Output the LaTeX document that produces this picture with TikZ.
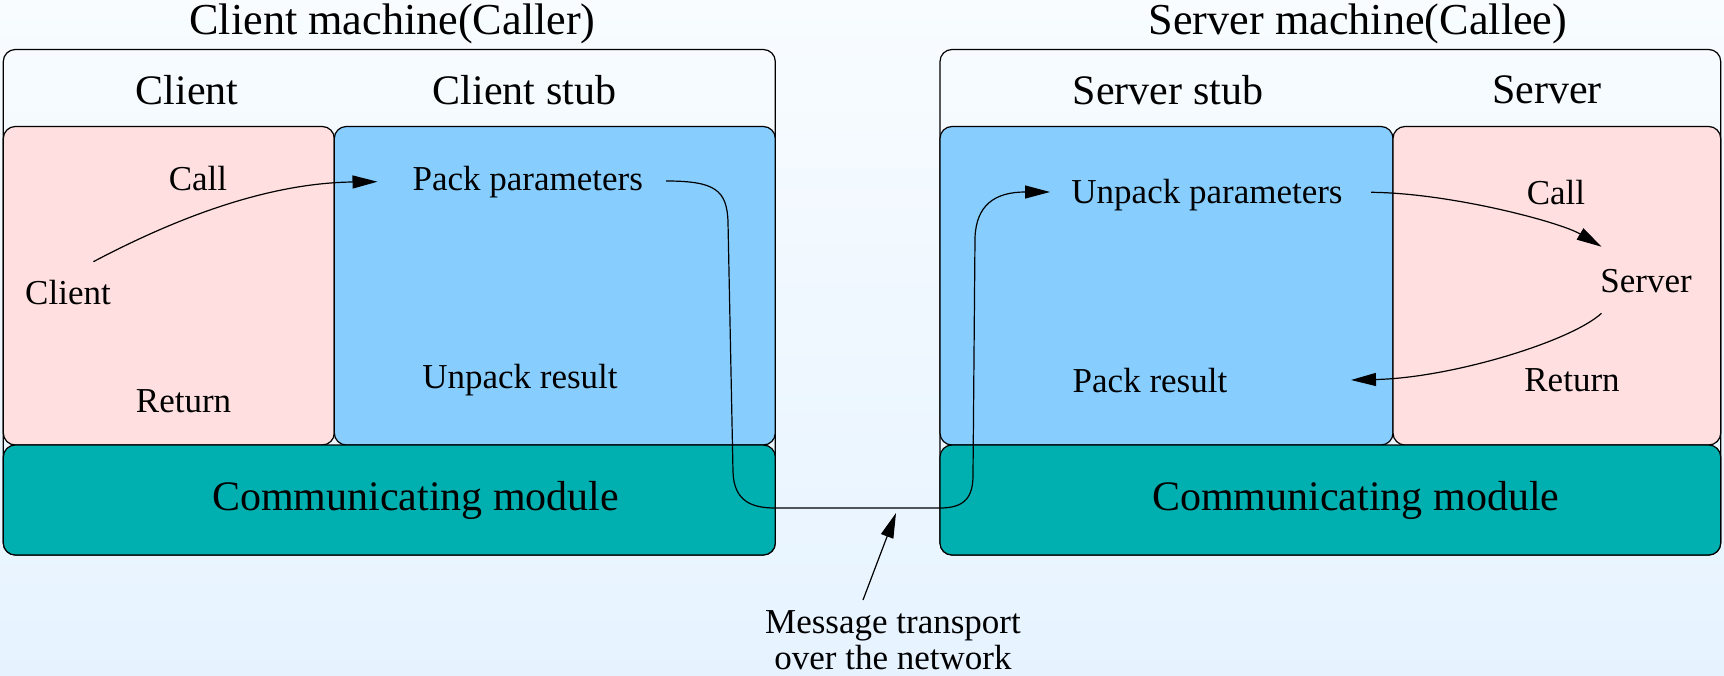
\documentclass[tikz,border=0pt]{standalone}
\usepackage{fontspec}
\setmainfont{Liberation Serif}
\usetikzlibrary{arrows.meta}
\definecolor{pinkbox}{HTML}{FFDFDF}
\definecolor{bluebox}{HTML}{87CEFF}
\definecolor{tealbox}{HTML}{00B0B0}
\definecolor{bgtop}{HTML}{F8FCFF}
\definecolor{bgbot}{HTML}{E6F3FF}
\begin{document}
\begin{tikzpicture}[x=1pt,y=-1pt,
  box/.style={draw=black, line width=1.2pt, rounded corners=12pt, inner sep=0pt, outer sep=0pt, anchor=north west},
  titletxt/.style={font=\fontsize{44.2}{47}\selectfont},
  headtxt/.style={font=\fontsize{42}{44}\selectfont},
  labtxt/.style={font=\fontsize{35}{36}\selectfont},
  conn/.style={line width=1.2pt},
  arr/.style={conn, -{Triangle[length=25pt,width=13pt]}}]
\useasboundingbox (0,0) rectangle (1724,676);
\fill[top color=bgtop,bottom color=bgbot] (0,0) rectangle (1724,676);

% client machine
\node[box, minimum width=772pt, minimum height=505.5pt] (cmach) at (3.3,49.5) {};
\node[box, fill=pinkbox, minimum width=331pt, minimum height=318.5pt] (cpink) at (3.3,126.5) {};
\node[box, fill=bluebox, minimum width=441pt, minimum height=318.5pt] (cblue) at (334.3,126.5) {};
\node[box, fill=tealbox, minimum width=772pt, minimum height=110pt] (ccomm) at (3.3,445) {};

% server machine
\node[box, minimum width=780.7pt, minimum height=505.5pt] (smach) at (940,49.5) {};
\node[box, fill=bluebox, minimum width=453pt, minimum height=318.5pt] (sblue) at (940,126.5) {};
\node[box, fill=pinkbox, minimum width=327.7pt, minimum height=318.5pt] (spink) at (1393,126.5) {};
\node[box, fill=tealbox, minimum width=780.7pt, minimum height=110pt] (scomm) at (940,445) {};

% titles and headers
\node[titletxt] (ctitle) at (392.5,24) {Client machine(Caller)};
\node[titletxt] (stitle) at (1358,24) {Server machine(Callee)};
\node[headtxt] (hclient) at (187,90) {Client};
\node[headtxt] (hcstub) at (524.5,90) {Client stub};
\node[headtxt] (hsstub) at (1168,90) {Server stub};
\node[headtxt] (hserver) at (1547,90) {Server};
\node[headtxt] (ccommtxt) at (415.6,500) {Communicating module};
\node[headtxt] (scommtxt) at (1355.7,500) {Communicating module};

% inner labels
\node[labtxt] (ccall) at (198,179) {Call};
\node[labtxt] (cclient) at (68,292.5) {Client};
\node[labtxt] (creturn) at (183.6,401) {Return};
\node[labtxt] (packp) at (527.8,182.5) {Pack parameters};
\node[labtxt] (unpackr) at (520,380) {Unpack result};
\node[labtxt] (unpackp) at (1207,194.6) {Unpack parameters};
\node[labtxt] (scall) at (1556,192.4) {Call};
\node[labtxt] (sserver) at (1646,281.5) {Server};
\node[labtxt] (packr) at (1150,380.4) {Pack result};
\node[labtxt] (sreturn) at (1572,380.4) {Return};
\node[labtxt, align=center] (msg) at (893,640) {Message transport\\over the network};

% connector end points
\coordinate (a1) at (93.4,261.7);
\coordinate (a2) at (377.5,181.7);
\coordinate (b1) at (666,181);
\coordinate (b2) at (1050,192);
\coordinate (c1) at (1371,192.3);
\coordinate (c2) at (1601.5,246.7);
\coordinate (d1) at (1601.5,313.3);
\coordinate (d2) at (1351,380);
\coordinate (m1) at (863,600);
\coordinate (m2) at (896,513);

% connectors
\draw[arr] (a1) .. controls (180,216) and (270,183) .. (a2);
\draw[arr] (b1) .. controls (715,181) and (727,190) .. (728,222)
  -- (733,472) .. controls (734,500) and (750,508) .. (775,508)
  -- (940,508) .. controls (965,508) and (973,497) .. (973,475)
  -- (975,238) .. controls (976,205) and (995,192) .. (b2);
\draw[arr] (c1) .. controls (1450,193) and (1560,222) .. (c2);
\draw[arr] (d1) .. controls (1570,342) and (1450,378) .. (d2);
\draw[arr] (m1) -- (m2);
\end{tikzpicture}
\end{document}
